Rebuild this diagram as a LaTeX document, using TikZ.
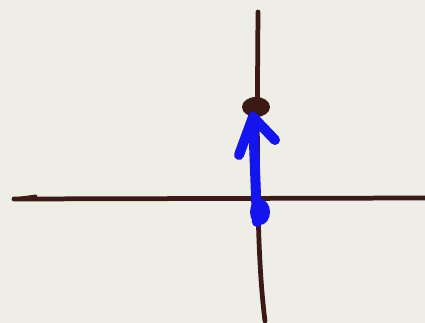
\documentclass[tikz,border=0pt]{standalone}
\begin{document}
\begin{tikzpicture}[x=0.02cm,y=-0.02cm,
  ink/.style={draw=inkbrown,line width=0.095cm,line cap=round},
  pen/.style={draw=penblue,line width=0.2cm,line cap=round,line join=round}]
\definecolor{paper}{HTML}{EEEEE6}
\definecolor{inkbrown}{HTML}{3B1A16}
\definecolor{penblue}{HTML}{1414EE}
\fill[paper] (0,0) rectangle (425,323);
\useasboundingbox (0,0) rectangle (425,323);
% axes
\coordinate (hl) at (14,199);
\coordinate (hr) at (425,198);
\coordinate (vt) at (258,12);
\coordinate (vb) at (265,321);
\draw[ink] (hl) -- (hr);
\draw[ink,line width=0.06cm] (hl) -- (36,196);
\draw[ink] (vt) .. controls (257,150) and (256,250) .. (vb);
% dot
\coordinate (dot) at (256,107);
\fill[inkbrown] (dot) ellipse (14 and 10);
% blue arrow
\coordinate (tail) at (257,222);
\coordinate (tip) at (253,117);
\draw[pen] (tail) -- (tip);
\draw[pen] (239,155) -- (tip) -- (275,140);
\fill[penblue] (260,212) ellipse (10 and 13);
\end{tikzpicture}
\end{document}
